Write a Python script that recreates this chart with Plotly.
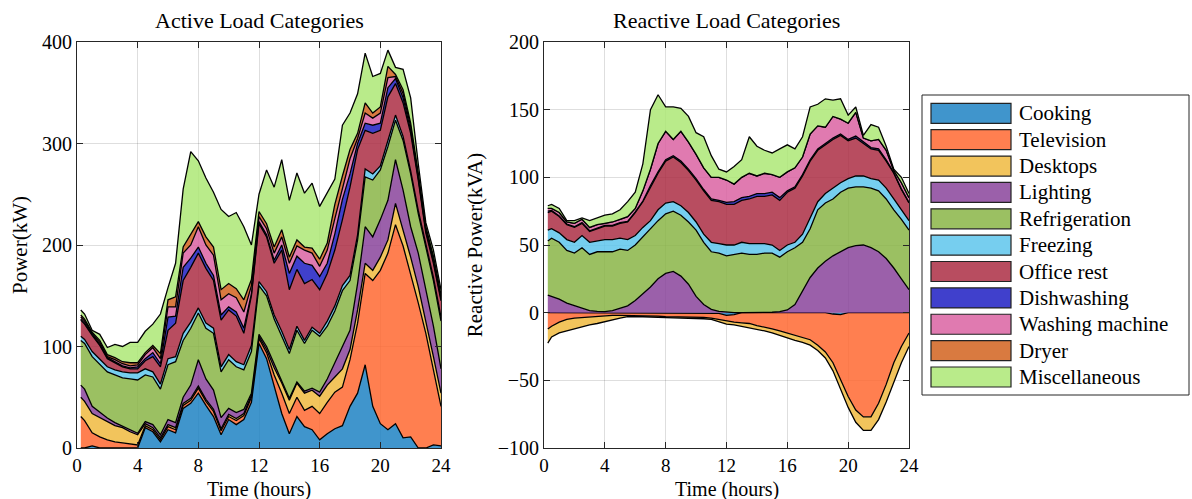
import plotly.graph_objects as go

# ---------------- data ----------------
hours = [0.25, 0.5, 1, 1.5, 2, 2.5, 3, 3.5, 4, 4.5, 5, 5.5, 6, 6.5, 7, 7.5, 8, 8.5,
         9, 9.5, 10, 10.5, 11, 11.5, 12, 12.5, 13, 13.5, 14, 14.5, 15, 15.5, 16,
         16.5, 17, 17.5, 18, 18.5, 19, 19.5, 20, 20.5, 21, 21.5, 22, 22.5, 23, 23.5, 24]

categories = ["Cooking", "Television", "Desktops", "Lighting", "Refrigeration", "Freezing",
              "Office rest", "Dishwashing", "Washing machine", "Dryer", "Miscellaneous"]

# Active power (kW)
p_cooking = [0, 0, 2, 0, 0, 0, 0, 0, 0, 20, 16, 6, 18, 15, 39, 44, 54, 42, 31, 13, 28, 23, 28, 45,
             103, 88, 60, 34, 14, 31, 21, 18, 8, 14, 19, 22, 41, 54, 82, 41, 24, 18, 24, 10, 11, 0, 0, 3, 2]
p_television = [31, 27, 13, 11, 8, 6, 5, 4, 3, 2, 2, 2, 3, 3, 3, 3, 5, 4, 5, 4, 3, 4, 4, 5,
                5, 6, 12, 20, 20, 19, 16, 23, 26, 31, 36, 38, 46, 69, 90, 124, 151, 174, 196, 189, 161, 143, 113, 74, 39]
p_desktops = [19, 19, 19, 19, 18, 16, 15, 12, 10, 2, 2, 2, 2, 2, 2, 2, 2, 2, 2, 2, 2, 2, 2, 2,
              2, 3, 7, 10, 13, 14, 17, 16, 17, 17, 15, 18, 10, 13, 10, 10, 13, 13, 21, 16, 16, 16, 13, 13, 13]
p_lighting = [12, 12, 7, 5, 3.5, 3, 1.5, 1.5, 1.5, 2, 3, 3, 5, 5, 6, 13, 26, 20, 19, 11, 6, 6, 4, 2,
              2, 3, 4, 2, 2, 1, 2, 2, 4, 6, 14, 22, 19, 26, 36, 33, 37, 39, 43, 39, 30, 33, 30, 30, 24]
p_refrigeration = [44, 45, 49, 47, 45.5, 47, 47.5, 50.5, 52.5, 46, 47, 45, 54, 60, 56, 56, 46, 50, 56, 45,
                   48, 45, 39, 41, 48, 50, 44, 44, 44, 51, 47, 57, 55, 52, 51, 55, 49, 43, 49, 56,
                   49, 53, 39, 49, 52, 39, 42, 45, 47]
p_freezing = [4, 4, 5, 6, 5, 5, 6, 6, 7, 6, 5, 5, 6, 5, 7, 6, 5, 5, 5, 5, 5, 5, 5, 6,
              4, 4, 4, 5, 4, 4, 3, 3, 3, 5, 5, 5, 5, 5, 8, 6, 4, 6, 5, 4, 3, 3, 3, 3, 4]
p_office = [16, 15, 16, 13, 8, 7, 5, 4, 4, 8, 15, 17, 28, 33, 52, 54, 54, 54, 47, 46, 44, 45, 31, 49,
            57, 54, 51, 80, 59, 56, 56, 47, 43, 47, 55, 65, 87, 84, 38, 40, 35, 43, 31, 33, 37, 30, 11, 14, 16]
p_dishwashing = [1, 1, 1, 1, 1, 1, 1, 1, 2, 2, 4, 3, 13, 7, 13, 9, 6, 5, 5, 5, 3, 4, 5, 2,
                 2, 2, 3, 5, 16, 13, 20, 14, 13, 10, 16, 20, 13, 6, 7, 8, 7, 9, 5, 5, 3, 2, 2, 2, 2]
p_washing = [2, 2, 1, 2, 1, 2, 2, 2, 2, 4, 5, 5, 10, 9, 14, 13, 20, 18, 20, 15, 13, 14, 16, 8,
             5, 6, 7, 8, 10, 10, 13, 12, 10, 13, 15, 11, 15, 5, 10, 7, 10, 10, 2, 4, 4, 2, 2, 2, 2]
p_dryer = [2, 2, 1, 2, 2, 2, 2, 3, 2, 2, 2, 5, 7, 10, 6, 10, 5, 8, 8, 10, 10, 9, 12, 6,
           5, 5, 6, 7, 6, 6, 3, 5, 7, 7, 14, 12, 9, 5, 10, 5, 6, 11, 2, 4, 3, 3, 2, 3, 2]
p_misc = [5, 5, 2, 6, 7, 13, 15, 20, 20, 21, 21, 39, 12, 33, 57, 82, 60, 58, 54, 79, 66, 75, 72, 34,
          17, 53, 59, 69, 56, 66, 53, 64, 52, 49, 25, 50, 36, 39, 49, 36, 33, 16, 7, 20, 25, 9, 4, 6, 5]

# Reactive power (kVA)
q_cooking = [0, 0, 0, 0, 0, 0, 0, 0, 0, 0, 0, 0, 0, 0, 0, 0, 0, 0, 0, 0, 0, 0, 0, -0.5,
             -2, -1.5, 0, 0, 0, 0, 0, 0, 0, 0, 0, 0, 0, 0, -1, -1.5, 0, 0, 0, 0, 0, 0, 0, 0, 0]
q_television = [-12, -10, -7, -5, -4, -3.5, -3, -2.5, -2.5, -2, -2, -2, -2, -2, -2.5, -2.5, -3, -3, -3, -3,
                -3.2, -3.5, -4, -4.5, -4.5, -5.5, -7.5, -8, -9.5, -10.5, -12, -13.5, -15, -16.5, -18, -20,
                -24, -29, -36, -47.5, -62, -72, -77, -77, -67, -53, -37, -25, -15]
q_desktops = [-10.5, -8, -8, -8.5, -8, -6.5, -6, -5.5, -4, -3, -2, -1, -0.8, -1, -0.7, -1, -1, -0.8, -1, -1,
              -1, -1, -1, -1.5, -2, -2, -2.5, -3, -2.5, -3, -3, -3.5, -4, -4, -4, -4, -4, -4.5, -6, -7,
              -8, -9, -10, -10, -12, -13, -14, -12, -10]
q_lighting = [13, 12, 10, 7, 5, 3, 1.5, 1, 0.8, 1.5, 3, 5, 9, 14, 19, 25, 29, 30.5, 27, 21, 12, 6, 2.5, 1,
              0.3, 0, 0, 0, 0, 0, 0.3, 0.8, 2, 6, 16, 26, 33, 38, 42, 45, 48, 49.5, 50, 48, 45, 40, 33, 25, 17]
q_refrigeration = [40, 43, 42, 39, 39, 45, 41.5, 44, 44.2, 43.5, 44, 41, 41, 42, 43, 43, 44, 44.5, 45, 46,
                   49, 46, 42.5, 43, 41.7, 43, 44, 43, 43, 44, 43.7, 40.2, 43, 42, 36, 36, 43, 43, 42, 44,
                   44, 43.5, 43, 44, 45, 44, 43, 44, 44]
q_freezing = [8, 7, 7, 8, 8, 9, 9, 8, 9, 9, 8, 8, 7, 7, 6, 8, 8, 7, 7, 7, 6, 6, 7, 7,
              8, 7, 8, 8, 8, 7, 6, 5, 5, 4, 6, 8, 6, 7, 8, 7, 7, 8, 8, 7, 8, 8, 8, 7, 7]
q_office = [13, 13, 12, 11, 11, 9, 8, 9, 10, 10, 11, 13, 17, 19, 25, 27, 31, 33, 32, 31, 31, 32, 31, 31,
            30, 30, 31, 33, 35, 35, 37, 37, 39, 40, 43, 42, 38, 36, 36, 35, 28, 28, 24, 22, 22, 20, 19, 15, 13]
q_dishwashing = [1, 0.5, 0.5, 0.5, 0.5, 0.5, 0.5, 0.5, 0.5, 0.5, 0.5, 0.5, 0.5, 0.5, 1, 1, 1, 1, 1, 1,
                 1, 1, 1, 1, 1.5, 2, 2, 2, 2, 2, 2, 2, 1, 1, 1, 1, 1, 1, 1, 1, 1, 1.5, 1, 1, 1, 1, 0.5, 0.5, 0.5]
q_washing = [2, 1.5, 2.5, 1.5, 2.5, 2.5, 2.5, 2.5, 1.5, 2.5, 2.5, 3.5, 2.5, 7.5, 12, 21, 21, 12, 22, 20,
             18, 16, 16, 17, 16.5, 13, 15, 17, 13, 15, 13, 15, 14, 14, 13, 19, 17, 12, 16, 11, 12, 17.5,
             3, 5, 7, 7, 1.5, 4.5, 3.5]
q_dryer = [0] * 49
q_misc = [2, 3, 3, 1, 2, 1, 5, 5, 6, 6, 7, 11, 12, 20, 44, 36, 18, 24, 17, 19, 16, 23, 16, 6,
          6, 13, 13, 27, 22, 17, 16, 21, 20, 14, 15, 20, 16, 21, 12, 15, 6, 4, 2, 12, 9, 3, 1, 4, 3]

active_series = [p_cooking, p_television, p_desktops, p_lighting, p_refrigeration, p_freezing,
                 p_office, p_dishwashing, p_washing, p_dryer, p_misc]
reactive_series = [q_cooking, q_television, q_desktops, q_lighting, q_refrigeration, q_freezing,
                   q_office, q_dishwashing, q_washing, q_dryer, q_misc]
for s in active_series + reactive_series:
    assert len(s) == len(hours), len(s)

x_ticks = [0, 4, 8, 12, 16, 20, 24]
p_ticks = [0, 100, 200, 300, 400]
q_ticks = [-100, -50, 0, 50, 100, 150, 200]

# ---------------- styling ----------------
FONT = "Liberation Serif"
colors = ["rgba(30,131,195,0.85)", "rgba(255,105,49,0.85)", "rgba(240,186,64,0.85)",
          "rgba(137,68,155,0.85)", "rgba(137,181,70,0.85)", "rgba(94,197,236,0.85)",
          "rgba(171,46,68,0.85)", "rgba(30,30,195,0.85)", "rgba(219,99,162,0.85)",
          "rgba(210,99,30,0.85)", "rgba(173,232,117,0.85)"]
negative_reactive = {"Cooking", "Television", "Desktops"}

fig = go.Figure()
for name, vals, col in zip(categories, active_series, colors):
    fig.add_trace(go.Scatter(x=hours, y=vals, name=name, stackgroup="active",
                             mode="lines", line=dict(color="black", width=1.3),
                             fillcolor=col, xaxis="x", yaxis="y", showlegend=False,
                             hoverinfo="x+y+name"))
for name, vals, col in zip(categories, reactive_series, colors):
    grp = "reactive_neg" if name in negative_reactive else "reactive_pos"
    fig.add_trace(go.Scatter(x=hours, y=vals, name=name, stackgroup=grp,
                             mode="lines", line=dict(color="black", width=1.3),
                             fillcolor=col, xaxis="x2", yaxis="y2", showlegend=False,
                             hoverinfo="x+y+name"))

W, H = 1192, 499
ML, MR, MT, MB = 77, 283, 42, 51
PW, PH = W - ML - MR, H - MT - MB


def px(xp):
    return (xp - ML) / PW


def py(yp):
    return (H - MB - yp) / PH


axis_common = dict(showline=True, linecolor="#262626", linewidth=1, mirror="ticks",
                   ticks="inside", ticklen=6, tickcolor="#262626", tickwidth=1,
                   showgrid=True, gridcolor="rgba(0,0,0,0.13)", gridwidth=1,
                   zeroline=False, automargin=False,
                   tickfont=dict(family=FONT, size=20, color="black"))
x_tickfont = dict(family=FONT, size=19, color="black")

fig.update_layout(
    width=W, height=H, autosize=False,
    margin=dict(l=ML, r=MR, t=MT, b=MB),
    paper_bgcolor="white", plot_bgcolor="white",
    font=dict(family=FONT, color="black"),
    xaxis=dict(domain=[0, px(441)], range=[0, 24], tickvals=x_ticks, anchor="y",
               ticklabelstandoff=0, **{**axis_common, "tickfont": x_tickfont}),
    yaxis=dict(domain=[0, 1], range=[0, 400], tickvals=p_ticks, anchor="x",
               title=dict(text="Power(kW)", font=dict(family=FONT, size=21), standoff=8),
               **axis_common),
    xaxis2=dict(domain=[px(544), 1], range=[0, 24], tickvals=x_ticks, anchor="y2",
                ticklabelstandoff=0, **{**axis_common, "tickfont": x_tickfont}),
    yaxis2=dict(domain=[0, 1], range=[-100, 200], tickvals=q_ticks, anchor="x2",
                title=dict(text="Reactive Power(kVA)", font=dict(family=FONT, size=21), standoff=9),
                **axis_common),
    showlegend=False,
)

# subplot titles
fig.add_annotation(x=(px(77) + px(441)) / 2, y=1, xref="paper", yref="paper",
                   text="Active Load Categories", showarrow=False, xanchor="center",
                   yanchor="bottom", yshift=7,
                   font=dict(family=FONT, size=22, color="black"))
fig.add_annotation(x=(px(544) + 1) / 2, y=1, xref="paper", yref="paper",
                   text="Reactive Load Categories", showarrow=False, xanchor="center",
                   yanchor="bottom", yshift=7,
                   font=dict(family=FONT, size=22, color="black"))

# x-axis titles
for x0, x1 in [(77, 441), (544, 909)]:
    fig.add_annotation(x=(px(x0) + px(x1)) / 2, y=py(499), xref="paper", yref="paper",
                       text="Time (hours)", showarrow=False, xanchor="center",
                       yanchor="bottom", yshift=-3, borderpad=0,
                       font=dict(family=FONT, size=20, color="black"))

# legend box (drawn to match the reference's large swatches)
fig.add_shape(type="rect", xref="paper", yref="paper", x0=px(922), x1=px(1189),
              y0=py(395), y1=py(95), line=dict(color="#262626", width=1), fillcolor="white")
row0, step = 113.3, 26.37
for i, (name, col) in enumerate(zip(categories, colors)):
    cy = row0 + i * step
    fig.add_shape(type="rect", xref="paper", yref="paper", x0=px(931), x1=px(1011),
                  y0=py(cy + 10), y1=py(cy - 10), line=dict(color="#222222", width=1.2),
                  fillcolor=col)
    fig.add_annotation(x=px(1017), y=py(cy), xref="paper", yref="paper", text=name,
                       showarrow=False, xanchor="left", yanchor="middle",
                       font=dict(family=FONT, size=21, color="black"))

fig.write_html("out.html")
